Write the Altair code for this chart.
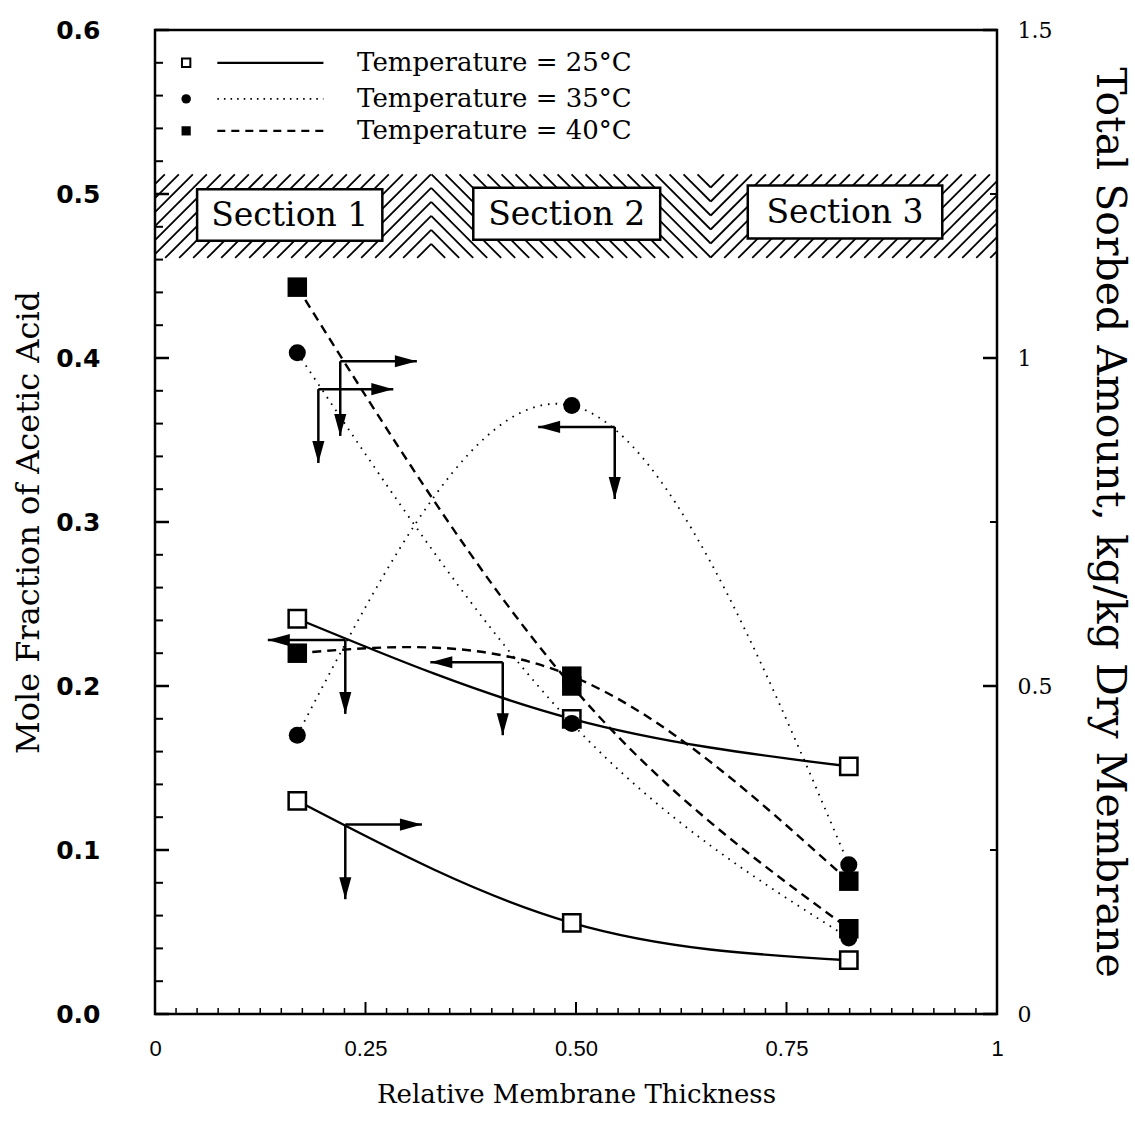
import altair as alt
import pandas as pd

# ---------------- data ----------------
x_pos = [0.169, 0.495, 0.824]           # relative membrane thickness (section centres)

# mole fraction of acetic acid (left axis)
mole_25 = [0.241, 0.180, 0.151]
mole_35 = [0.170, 0.371, 0.091]
mole_40 = [0.220, 0.206, 0.081]

# total sorbed amount, kg/kg dry membrane (right axis)
sorb_25 = [0.325, 0.139, 0.082]
sorb_35 = [1.008, 0.443, 0.116]
sorb_40 = [1.108, 0.500, 0.130]

legend_labels = ["Temperature = 25°C", "Temperature = 35°C", "Temperature = 40°C"]
section_labels = ["Section 1", "Section 2", "Section 3"]

left_ticks = [0.0, 0.1, 0.2, 0.3, 0.4, 0.5, 0.6]
right_ticks = [0, 0.5, 1, 1.5]
right_minor = [0.25, 0.75, 1.25]
bottom_ticks = [0, 0.25, 0.5, 0.75, 1]

# annotation arrows (left-axis coordinates): corner, horizontal tip, vertical tip
arrow_cx = [0.220, 0.194, 0.546, 0.226, 0.413, 0.226]
arrow_cy = [0.398, 0.381, 0.358, 0.228, 0.2145, 0.1155]
arrow_hx = [0.311, 0.283, 0.455, 0.134, 0.327, 0.317]
arrow_vy = [0.3525, 0.336, 0.314, 0.183, 0.170, 0.070]

# legend layout (left-axis coordinates)
legend_y = [0.580, 0.558, 0.5385]
legend_marker_x = 0.037
legend_line_x = [0.074, 0.200]
legend_text_x = 0.240

# section band and boxes (left-axis coordinates)
band = [0.461, 0.512]
boundaries = [0.328, 0.660]
box_x1 = [0.050, 0.378, 0.704]
box_x2 = [0.270, 0.600, 0.935]
box_y1 = [0.4715, 0.4721, 0.4729]
box_y2 = [0.5029, 0.5038, 0.5052]

# ---------------- chart ----------------
W, H = 842, 984
PPX = W / 1.0
PPY = H / 0.6

xs = alt.Scale(domain=[0, 1], nice=False, zero=False)
yls = alt.Scale(domain=[0, 0.6], nice=False, zero=False)
yrs = alt.Scale(domain=[0, 1.5], nice=False, zero=False)

left_axis = alt.Axis(values=left_ticks, format=".1f", orient="left", ticks=False, domain=False,
                     grid=False, labelFont="DejaVu Sans", labelFontWeight="bold", labelFontSize=25,
                     labelColor="black", labelPadding=55,
                     title="Mole Fraction of Acetic Acid", titleFont="DejaVu Serif",
                     titleFontWeight="normal", titleFontSize=32, titleColor="black", titlePadding=10)
bottom_axis = alt.Axis(values=bottom_ticks, orient="bottom", ticks=False, domain=False, grid=False,
                       labelExpr="datum.value == 0 ? '0' : datum.value == 1 ? '1' : format(datum.value, '.2f')",
                       labelFont="Liberation Sans", labelFontSize=22, labelColor="black",
                       labelPadding=24, labelFlush=False, labelOverlap=False,
                       title="Relative Membrane Thickness", titleFont="DejaVu Serif",
                       titleFontWeight="normal", titleFontSize=26, titleColor="black", titlePadding=22)
right_axis = alt.Axis(values=right_ticks, orient="right", ticks=False, domain=False, grid=False,
                      labelExpr="'' + datum.value", labelFont="DejaVu Serif", labelFontSize=22,
                      labelColor="black", labelPadding=20,
                      title="Total Sorbed Amount, kg/kg Dry Membrane", titleFont="DejaVu Serif",
                      titleFontWeight="normal", titleFontSize=41, titleColor="black", titlePadding=36)


def X(f="x"):
    return alt.X(f"{f}:Q", scale=xs, axis=bottom_axis)


def YL(f="y"):
    return alt.Y(f"{f}:Q", scale=yls, axis=left_axis)


def YR(f="y"):
    return alt.Y(f"{f}:Q", scale=yrs, axis=right_axis)


def curve(yv, ysc, dash=None, width=2.4):
    df = pd.DataFrame({"x": x_pos, "y": yv})
    kw = dict(interpolate="natural", color="black", strokeWidth=width)
    if dash is not None:
        kw["strokeDash"] = dash
    return alt.Chart(df).mark_line(**kw).encode(x=X(), y=ysc())


def markers(yv, ysc, kind, size=None):
    df = pd.DataFrame({"x": x_pos, "y": yv})
    if kind == "open":
        m = alt.Chart(df).mark_point(shape="square", filled=True, fill="white", stroke="black",
                                     strokeWidth=2.5, size=size or 300, opacity=1)
    elif kind == "circle":
        m = alt.Chart(df).mark_point(shape="circle", filled=True, color="black",
                                     size=size or 290, opacity=1)
    else:
        m = alt.Chart(df).mark_point(shape="square", filled=True, color="black",
                                     size=size or 380, opacity=1)
    return m.encode(x=X(), y=ysc())


# hatching of the section band (45 degree lines in screen space)
hb = (band[1] - band[0]) * PPY
B1, B2 = boundaries[0] * PPX, boundaries[1] * PPX
sp = 14.0
segs = []
for k in range(-90, 90):
    c = B1 - k * sp                      # section 1 "/"
    t0, t1 = max(0, 0 - c), min(hb, B1 - c)
    if t1 > t0:
        segs.append((c + t0, t0, c + t1, t1))
    d = B1 + k * sp                      # section 2 "\"
    t0, t1 = max(0, d - B2), min(hb, d - B1)
    if t1 > t0:
        segs.append((d - t0, t0, d - t1, t1))
    c = 2 * B2 - B1 - k * sp             # section 3 "/"
    t0, t1 = max(0, B2 - c), min(hb, W - c)
    if t1 > t0:
        segs.append((c + t0, t0, c + t1, t1))
hatch_df = pd.DataFrame({
    "x": [s[0] / PPX for s in segs],
    "y": [band[0] + s[1] / PPY for s in segs],
    "x2": [s[2] / PPX for s in segs],
    "y2": [band[0] + s[3] / PPY for s in segs],
})
hatch = alt.Chart(hatch_df).mark_rule(color="black", strokeWidth=1.8).encode(
    x=X(), x2="x2:Q", y=YL(), y2="y2:Q")

box_df = pd.DataFrame({"x": box_x1, "x2": box_x2, "y": box_y1, "y2": box_y2,
                       "label": section_labels,
                       "xc": [(a + b) / 2 for a, b in zip(box_x1, box_x2)],
                       "yc": [(a + b) / 2 for a, b in zip(box_y1, box_y2)]})
boxes = alt.Chart(box_df).mark_rect(fill="white", stroke="black", strokeWidth=2.5).encode(
    x=X(), x2="x2:Q", y=YL(), y2="y2:Q")
box_text = alt.Chart(box_df).mark_text(font="DejaVu Serif", fontSize=33, color="black",
                                       align="center", baseline="middle", dy=1).encode(
    x=X("xc"), y=YL("yc"), text="label:N")

# legend
leg_df = pd.DataFrame({"x": [legend_marker_x] * 3, "y": legend_y,
                       "lx1": [legend_line_x[0]] * 3, "lx2": [legend_line_x[1]] * 3,
                       "tx": [legend_text_x] * 3, "label": legend_labels})
leg_m25 = alt.Chart(leg_df.iloc[[0]]).mark_point(shape="square", filled=True, fill="white", stroke="black",
                                                  strokeWidth=2, size=70, opacity=1).encode(x=X(), y=YL())
leg_m35 = alt.Chart(leg_df.iloc[[1]]).mark_point(shape="circle", filled=True, color="black",
                                                  size=90, opacity=1).encode(x=X(), y=YL())
leg_m40 = alt.Chart(leg_df.iloc[[2]]).mark_point(shape="square", filled=True, color="black",
                                                  size=85, opacity=1).encode(x=X(), y=YL())
leg_l25 = alt.Chart(leg_df.iloc[[0]]).mark_rule(color="black", strokeWidth=2.2).encode(
    x=X("lx1"), x2="lx2:Q", y=YL())
leg_l35 = alt.Chart(leg_df.iloc[[1]]).mark_rule(color="black", strokeWidth=1.6, strokeDash=[1.6, 5]).encode(
    x=X("lx1"), x2="lx2:Q", y=YL())
leg_l40 = alt.Chart(leg_df.iloc[[2]]).mark_rule(color="black", strokeWidth=2.4, strokeDash=[8, 6]).encode(
    x=X("lx1"), x2="lx2:Q", y=YL())
leg_txt = alt.Chart(leg_df).mark_text(font="DejaVu Serif", fontSize=26, color="black",
                                      align="left", baseline="middle").encode(
    x=X("tx"), y=YL(), text="label:N")

# arrows
arr_df = pd.DataFrame({"cx": arrow_cx, "cy": arrow_cy, "hx": arrow_hx, "vy": arrow_vy})
arr_df["hshape"] = ["M0,0L-2,-0.55L-2,0.55Z" if h > c else "M0,0L2,-0.55L2,0.55Z"
                    for h, c in zip(arrow_hx, arrow_cx)]
arr_df["vshape"] = "M0,0L-0.55,-2L0.55,-2Z"
arr_h = alt.Chart(arr_df).mark_rule(color="black", strokeWidth=2.5).encode(
    x=X("cx"), x2="hx:Q", y=YL("cy"))
arr_v = alt.Chart(arr_df).mark_rule(color="black", strokeWidth=2.5).encode(
    x=X("cx"), y=YL("cy"), y2="vy:Q")
head_h = alt.Chart(arr_df).mark_point(filled=True, color="black", size=484, opacity=1).encode(
    x=X("hx"), y=YL("cy"), shape=alt.Shape("hshape:N", scale=None, legend=None))
head_v = alt.Chart(arr_df).mark_point(filled=True, color="black", size=484, opacity=1).encode(
    x=X("cx"), y=YL("vy"), shape=alt.Shape("vshape:N", scale=None, legend=None))

# inward ticks
lmaj = alt.Chart(pd.DataFrame({"y": left_ticks})).mark_rule(color="black", strokeWidth=2.5).encode(
    y=YL(), x=alt.value(0), x2=alt.value(14))
lmin = alt.Chart(pd.DataFrame({"y": [round(i * 0.02, 2) for i in range(31) if i % 5]})).mark_rule(
    color="black", strokeWidth=2).encode(y=YL(), x=alt.value(0), x2=alt.value(8))
bmaj = alt.Chart(pd.DataFrame({"x": bottom_ticks})).mark_rule(color="black", strokeWidth=2).encode(
    x=X(), y=alt.value(H), y2=alt.value(H - 12))
bmin = alt.Chart(pd.DataFrame({"x": [round(i * 0.025, 3) for i in range(41) if i % 10]})).mark_rule(
    color="black", strokeWidth=1.5).encode(x=X(), y=alt.value(H), y2=alt.value(H - 6))
rmaj = alt.Chart(pd.DataFrame({"y": right_ticks})).mark_rule(color="black", strokeWidth=2.5).encode(
    y=YR(), x=alt.value(W), x2=alt.value(W - 14))
rmin = alt.Chart(pd.DataFrame({"y": right_minor})).mark_rule(color="black", strokeWidth=2).encode(
    y=YR(), x=alt.value(W), x2=alt.value(W - 7))

left_group = alt.layer(
    lmaj, lmin, bmaj, bmin,
    hatch, boxes, box_text,
    leg_l25, leg_l35, leg_l40, leg_m25, leg_m35, leg_m40, leg_txt,
    curve(mole_25, YL), curve(mole_35, YL, [1.6, 6], 1.8), curve(mole_40, YL, [9, 6], 2.4),
    arr_h, arr_v, head_h, head_v,
    markers(mole_25, YL, "open"), markers(mole_35, YL, "circle"), markers(mole_40, YL, "square"),
)
right_group = alt.layer(
    rmaj, rmin,
    curve(sorb_25, YR), curve(sorb_35, YR, [1.6, 6], 1.8), curve(sorb_40, YR, [9, 6], 2.4),
    markers(sorb_25, YR, "open"), markers(sorb_35, YR, "circle"), markers(sorb_40, YR, "square"),
)

chart = alt.layer(left_group, right_group).resolve_scale(y="independent").properties(
    width=W, height=H,
    autosize=alt.AutoSizeParams(type="none"),
    padding={"left": 155, "top": 30, "right": 138, "bottom": 134},
    background="white",
).configure_view(stroke="black", strokeWidth=2.5)

chart.save("out.html", embed_options={"renderer": "svg", "actions": False})
